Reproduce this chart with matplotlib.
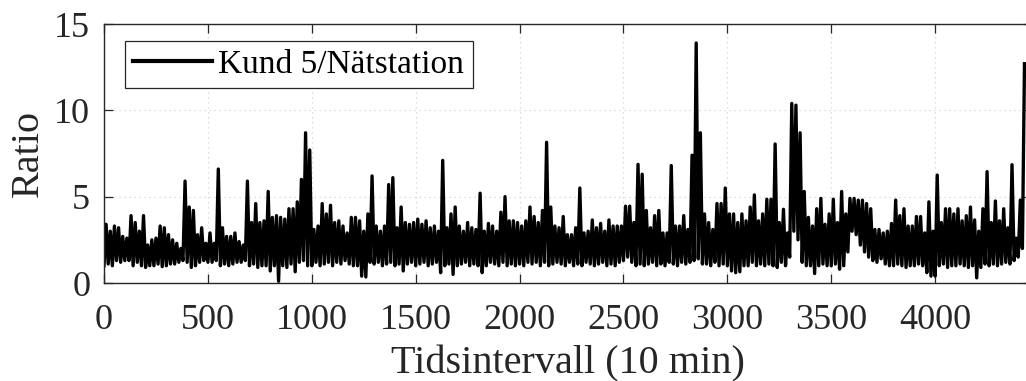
import numpy as np
import matplotlib.pyplot as plt

plt.rcParams['font.family'] = ['Liberation Serif', 'DejaVu Serif']

# band top (hi) and band bottom (lo) per block of 20 intervals
hi = [3.4, 3.0, 3.3, 3.2, 2.7, 2.6, 3.9, 3.5, 3.0, 3.9,
      2.2, 2.5, 2.6, 3.3, 3.2, 2.8, 2.5, 2.3, 2.0, 5.9,
      4.4, 4.2, 2.8, 3.2, 2.3, 2.9, 2.3, 6.6, 3.2, 2.7,
      2.7, 2.9, 2.4, 2.2, 5.9, 3.5, 4.6, 3.5, 3.6, 5.3,
      3.8, 3.9, 3.8, 3.7, 4.3, 4.3, 4.7, 6.0, 8.7, 7.7,
      3.1, 3.3, 4.6, 4.0, 4.5, 3.5, 3.6, 3.3, 2.9, 3.8,
      3.8, 3.6, 3.0, 4.0, 6.2, 3.3, 3.0, 3.3, 5.7, 6.1,
      3.2, 4.4, 3.5, 3.4, 3.5, 3.7, 3.4, 3.6, 3.2, 3.3,
      3.0, 7.1, 3.2, 4.0, 4.4, 3.3, 3.0, 3.5, 3.2, 3.1,
      5.2, 3.0, 3.45, 3.3, 3.0, 4.1, 5.0, 3.6, 3.6, 3.5,
      3.3, 3.6, 4.4, 3.85, 3.5, 4.2, 8.15, 4.4, 3.3, 3.2,
      3.85, 2.8, 2.8, 3.2, 5.5, 2.9, 3.0, 3.65, 3.2, 3.45,
      3.0, 3.65, 3.3, 3.3, 3.3, 4.45, 4.45, 3.5, 6.87, 6.3,
      4.2, 3.2, 3.9, 4.2, 2.9, 2.9, 6.8, 3.3, 3.3, 3.9,
      3.1, 7.4, 13.9, 8.7, 4.0, 3.5, 3.1, 4.6, 4.6, 5.5,
      4.0, 4.0, 3.5, 4.0, 3.6, 4.4, 5.1, 3.6, 4.0, 4.85,
      4.85, 8.05, 3.5, 4.27, 2.9, 10.4, 10.3, 8.7, 5.3, 3.8,
      3.3, 4.3, 4.9, 3.4, 4.0, 4.85, 3.5, 5.3, 4.0, 4.9,
      4.9, 4.8, 4.8, 4.6, 4.3, 3.1, 3.1, 2.9, 3.0, 3.45,
      4.8, 3.9, 4.3, 3.3, 3.3, 3.85, 3.85, 2.9, 4.7, 3.0,
      6.25, 3.5, 4.3, 4.3, 4.0, 4.3, 3.6, 3.9, 4.4, 3.65,
      3.0, 4.3, 6.45, 3.5, 4.75, 3.6, 4.3, 3.2, 6.85, 2.6,
      4.8, 12.7]
lo = [1.0, 1.1, 1.0, 1.3, 1.2, 1.3, 1.3, 1.0, 1.2, 1.0,
      0.9, 1.0, 1.0, 1.1, 0.95, 1.0, 1.1, 1.1, 1.2, 1.3,
      1.2, 0.9, 1.0, 1.2, 1.3, 1.2, 1.2, 1.3, 1.0, 1.1,
      1.0, 1.1, 1.2, 1.2, 1.3, 1.0, 1.1, 0.9, 1.0, 1.0,
      0.7, 1.0, 0.1, 1.0, 0.9, 1.1, 0.65, 1.2, 1.3, 1.0,
      1.0, 1.2, 1.0, 1.1, 1.2, 1.0, 1.2, 1.1, 1.3, 1.1,
      1.0, 1.0, 0.4, 0.35, 1.2, 1.1, 1.2, 1.0, 1.1, 1.2,
      1.0, 1.1, 0.7, 1.1, 1.2, 1.0, 1.1, 1.2, 1.0, 1.1,
      1.2, 0.6, 1.0, 1.1, 0.5, 1.0, 1.1, 1.2, 1.0, 1.1,
      1.0, 0.6, 1.0, 1.2, 1.1, 1.0, 1.2, 1.0, 1.1, 1.0,
      1.1, 1.0, 1.2, 1.1, 1.2, 1.0, 1.2, 1.0, 1.1, 1.2,
      1.1, 1.0, 1.2, 1.0, 1.1, 1.0, 1.2, 1.1, 1.0, 1.1,
      1.2, 1.0, 1.1, 1.0, 1.2, 1.3, 1.5, 1.2, 1.0, 1.1,
      1.0, 1.1, 1.2, 1.0, 1.1, 1.0, 1.2, 1.1, 1.0, 1.2,
      1.1, 1.2, 1.3, 1.4, 1.1, 1.1, 1.0, 1.2, 1.0, 1.1,
      1.0, 0.7, 0.6, 0.65, 1.0, 1.0, 1.2, 1.0, 1.1, 1.0,
      1.1, 1.0, 0.9, 1.2, 1.0, 1.5, 3.0, 2.5, 1.2, 1.0,
      1.0, 0.55, 1.0, 1.1, 1.0, 1.0, 1.1, 0.8, 1.0, 1.8,
      3.0, 2.8, 2.2, 1.8, 1.5, 1.3, 1.2, 1.4, 1.1, 1.0,
      1.0, 1.1, 1.0, 0.9, 1.0, 1.0, 1.1, 1.0, 0.6, 0.4,
      0.4, 1.0, 1.1, 0.9, 1.0, 1.0, 1.1, 1.0, 0.9, 1.0,
      0.3, 0.9, 1.1, 1.0, 1.1, 1.0, 1.1, 1.2, 1.1, 1.3,
      1.5, 2.0]

ratio = np.column_stack([lo, hi]).ravel()
t = np.arange(len(ratio)) * 10

fig = plt.figure(figsize=(10.26, 3.81), dpi=100)
ax = fig.add_axes([0.1014, 0.2572, 0.904, 0.6798])
ax.plot(t, ratio, color='black', linewidth=2.4, label='Kund 5/Nätstation')

ax.set_xlim(0, 4464)
ax.set_ylim(0, 15)
ax.set_xticks([0, 500, 1000, 1500, 2000, 2500, 3000, 3500, 4000])
ax.set_yticks([0, 5, 10, 15])
ax.grid(True, color='#d4d4d4', linestyle=(0, (1, 3)), linewidth=0.9)

dark = '#262626'
for s in ax.spines.values():
    s.set_color(dark)
    s.set_linewidth(1.0)
ax.tick_params(direction='in', length=6.5, width=0.9, colors=dark,
               labelsize=26, top=True, right=True)
ax.tick_params(axis='x', pad=15)
ax.tick_params(axis='y', pad=10)

ax.set_xlabel('Tidsintervall (10 min)', fontsize=29, color=dark, labelpad=6)
ax.set_ylabel('Ratio', fontsize=29, color=dark, labelpad=5)

leg = ax.legend(loc='upper left', bbox_to_anchor=(0.0226, 0.934), borderaxespad=0,
                fontsize=24, handlelength=2.35, handletextpad=0.2,
                borderpad=0.25, fancybox=False, framealpha=1)
leg.get_frame().set_edgecolor(dark)
leg.get_frame().set_linewidth(0.9)
leg.get_lines()[0].set_linewidth(3.0)
for txt in leg.get_texts():
    txt.set_color('black')

fig.savefig('out.png', dpi=100)
